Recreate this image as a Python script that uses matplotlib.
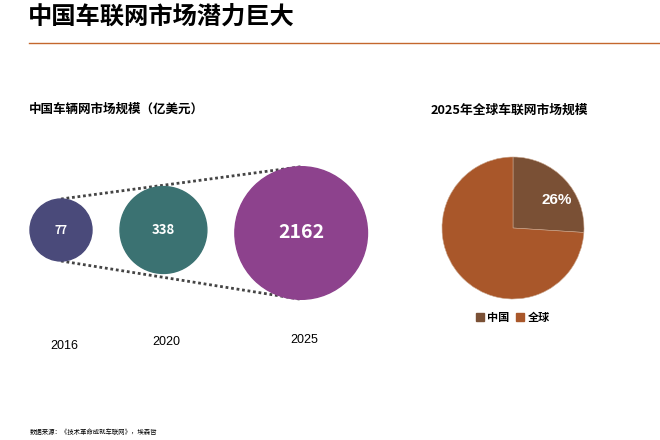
import matplotlib
matplotlib.use('Agg')
import matplotlib.pyplot as plt
from matplotlib.patches import Circle, Patch

plt.rcParams['font.family'] = ['Noto Sans CJK SC', 'DejaVu Sans']

# data
years = ['2016', '2020', '2025']
market_size = [77, 338, 2162]
pie_labels = ['中国', '全球']
pie_share = [26, 74]

bubble_colors = ['#4a4a7a', '#3b7272', '#8d428d']
pie_colors = ['#7a5035', '#a9572a']

fig = plt.figure(figsize=(6.6, 4.4), dpi=100)
ax = fig.add_axes([0, 0, 1, 1])
ax.set_xlim(0, 660)
ax.set_ylim(440, 0)
ax.set_aspect('equal')
ax.axis('off')

# titles and rule
ax.text(28, 17, '中国车联网市场潜力巨大', fontsize=17.5, fontweight='heavy',
        va='center', ha='left')
ax.plot([29, 660], [43, 43], color='#c4672d', lw=1)
ax.text(29, 109, '中国车辆网市场规模（亿美元）', fontsize=9, fontweight='bold',
        va='center', ha='left')
ax.text(509, 110, '2025年全球车联网市场规模', fontsize=9.2, fontweight='bold',
        va='center', ha='center')
ax.text(30, 432, '数据来源：《技术革命成就车联网》，埃森哲', fontsize=4.6,
        va='center', ha='left')

# bubbles: radius grows with value (not area-true, as in the original)
radii = [31 * (v / market_size[0]) ** 0.228 for v in market_size]
gap = 28
xs = []
x = 61
for i, r in enumerate(radii):
    if i > 0:
        x = x + radii[i - 1] + gap + r
    xs.append(x)
cy = [230, 230, 233]
label_sizes = [8, 9.5, 14]
year_y = [346, 342, 340]

ax.plot([xs[0], xs[-1]], [cy[0] - radii[0], cy[-1] - radii[-1]],
        ls=(0, (1, 1)), color='#444444', lw=2, zorder=1)
ax.plot([xs[0], xs[-1]], [cy[0] + radii[0], cy[-1] + radii[-1]],
        ls=(0, (1, 1)), color='#444444', lw=2, zorder=1)

for x, y, r, c, v, yr, fs, yy in zip(xs, cy, radii, bubble_colors, market_size,
                                     years, label_sizes, year_y):
    ax.add_patch(Circle((x, y), r, color=c, zorder=2))
    ax.text(x, y, str(v), color='white', fontsize=fs, fontweight='bold',
            ha='center', va='center', zorder=3)
    ax.text(x + 3, yy, yr, fontsize=9, ha='center', va='center',
            family='Liberation Sans')

# pie
pie_ax = fig.add_axes([442 / 660, (440 - 228 - 71) / 440, 142 / 660, 142 / 440])
wedges, _ = pie_ax.pie(pie_share, colors=pie_colors, startangle=90,
                       counterclock=False,
                       wedgeprops=dict(edgecolor='#c9a58c', linewidth=0.4))
pie_ax.set_xlim(-1, 1)
pie_ax.set_ylim(-1, 1)
pie_ax.set_aspect('equal')
pie_ax.text(0.62, 0.39, '%d%%' % pie_share[0], color='white', fontsize=11,
            fontweight='bold', ha='center', va='center', family='Liberation Sans')

handles = [Patch(color=c, label=l) for c, l in zip(pie_colors, pie_labels)]
leg = fig.legend(handles=handles, loc='center', bbox_to_anchor=(513 / 660, 1 - 317 / 440),
                 ncol=2, frameon=False, handlelength=0.7, handleheight=0.7,
                 handletextpad=0.3, columnspacing=0.6, prop={'size': 8, 'weight': 'bold'})

fig.savefig('out.png', dpi=100)
